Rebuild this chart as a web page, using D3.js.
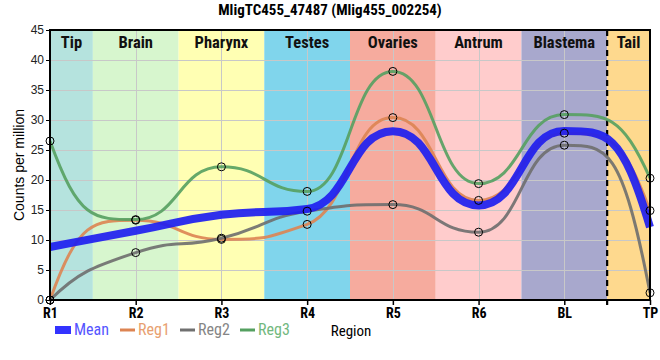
<!DOCTYPE html>
<html><head><meta charset="utf-8">
<script src="https://cdn.jsdelivr.net/npm/d3@7"></script>
<style>body{margin:0;background:#fff}svg{display:block}</style>
</head><body>
<svg id="c" width="660" height="360"></svg>
<script>
const categories = ["R1","R2","R3","R4","R5","R6","BL","TP"];
const regions = ["Tip","Brain","Pharynx","Testes","Ovaries","Antrum","Blastema","Tail"];
const regionColors = ["#b5e3de","#d7f6ce","#ffffb3","#80d5ec","#f6ab9e","#ffcccc","#a8a8cd","#fed98e"];
const reg1 = [0, 13.3, 10.1, 12.6, 30.4, 16.6, 27.8, 14.9];
const reg2 = [0, 7.9, 10.3, 14.8, 15.9, 11.3, 25.8, 1.2];
const reg3 = [26.5, 13.4, 22.2, 18.1, 38.1, 19.4, 30.9, 20.3];
const mean = categories.map((c,i)=> (reg1[i]+reg2[i]+reg3[i])/3);
const yTicks = [0,5,10,15,20,25,30,35,40,45];
const title = "MligTC455_47487 (Mlig455_002254)";

// monotone cubic curve with wide handles at interior points
function SmoothCurve(context){ this._context = context; }
SmoothCurve.prototype = {
  areaStart(){}, areaEnd(){},
  lineStart(){ this._x=[]; this._y=[]; },
  point(x,y){ this._x.push(+x); this._y.push(+y); },
  lineEnd(){
    const X=this._x, Y=this._y, n=X.length, ctx=this._context;
    if(!n) return;
    ctx.moveTo(X[0],Y[0]);
    if(n<2) return;
    const h=[], s=[];
    for(let i=0;i<n-1;i++){ h.push(X[i+1]-X[i]); s.push((Y[i+1]-Y[i])/h[i]); }
    const sg = v => v<0?-1:(v>0?1:0);
    const m = new Array(n).fill(0);
    for(let i=1;i<n-1;i++){
      const p=(s[i-1]*h[i]+s[i]*h[i-1])/(h[i-1]+h[i]);
      m[i]=(sg(s[i-1])+sg(s[i]))*Math.min(Math.abs(s[i-1]),Math.abs(s[i]),0.5*Math.abs(p));
    }
    m[0]=3*s[0]-2*m[1]; if(sg(m[0])!==sg(s[0])) m[0]=0;
    m[n-1]=3*s[n-2]-2*m[n-2]; if(sg(m[n-1])!==sg(s[n-2])) m[n-1]=0;
    const fi=0.5, fe=1/3;
    for(let i=0;i<n-1;i++){
      const a = (i===0?fe:fi)*h[i], b = (i===n-2?fe:fi)*h[i];
      ctx.bezierCurveTo(X[i]+a, Y[i]+m[i]*a, X[i+1]-b, Y[i+1]-m[i+1]*b, X[i+1], Y[i+1]);
    }
  }
};
const curveSmooth = ctx => new SmoothCurve(ctx);

const svg = d3.select("#c");
const L=50,R=650,T=30,B=300;
const x = d3.scalePoint().domain(categories).range([L,R]);
const y = d3.scaleLinear().domain([0,45]).range([B,T]);
const narrow = "'Liberation Sans Narrow','Arial Narrow','Roboto Condensed',sans-serif";

// bands
const xs = categories.map(c=>x(c));
const edges = [L];
for(let i=0;i<xs.length-1;i++) edges.push((xs[i]+xs[i+1])/2);
edges.push(R);
svg.append("g").selectAll("rect").data(regions).join("rect")
  .attr("x",(d,i)=>edges[i]).attr("y",T)
  .attr("width",(d,i)=>edges[i+1]-edges[i]).attr("height",B-T)
  .attr("fill",(d,i)=>regionColors[i]);

// grid
const g = svg.append("g").attr("stroke","#c8c8c8").attr("stroke-width",1);
g.selectAll("line.h").data(yTicks).join("line").attr("class","h")
  .attr("x1",L).attr("x2",R).attr("y1",d=>y(d)+0.5).attr("y2",d=>y(d)+0.5);
g.selectAll("line.v").data(categories).join("line").attr("class","v")
  .attr("x1",d=>Math.round(x(d))+0.5).attr("x2",d=>Math.round(x(d))+0.5).attr("y1",T).attr("y2",B);

// region labels
svg.append("g").selectAll("text").data(regions).join("text")
  .attr("x",(d,i)=>(edges[i]+edges[i+1])/2).attr("y",T+18)
  .attr("text-anchor","middle").attr("font-family",narrow).attr("font-weight","bold")
  .attr("font-size",16.5).attr("fill","#111").text(d=>d);

// dashed separator
svg.append("line").attr("x1",edges[7]).attr("x2",edges[7]).attr("y1",T).attr("y2",B+5)
  .attr("stroke","#000").attr("stroke-width",2.2).attr("stroke-dasharray","6,4");

// lines
const line = d3.line().x((d,i)=>x(categories[i])).y(d=>y(d)).curve(curveSmooth);
const series = [
  {name:"Reg1",vals:reg1,color:"#dd8452",w:3},
  {name:"Reg2",vals:reg2,color:"#6e6e6e",w:3},
  {name:"Reg3",vals:reg3,color:"#55a060",w:3}
];
series.forEach(s=>{
  svg.append("path").attr("d",line(s.vals)).attr("fill","none")
    .attr("stroke",s.color).attr("stroke-width",s.w).attr("stroke-opacity",0.9);
});
svg.append("path").attr("d",line(mean)).attr("fill","none")
  .attr("stroke","#1e1ef0").attr("stroke-width",8).attr("stroke-opacity",0.92);

// points
series.forEach(s=>{
  svg.append("g").selectAll("circle").data(s.vals).join("circle")
    .attr("cx",(d,i)=>x(categories[i])).attr("cy",d=>y(d)).attr("r",4)
    .attr("fill","none").attr("stroke","#000").attr("stroke-width",1);
});

// axes
const ya = svg.append("g").attr("transform",`translate(${L},0)`)
  .call(d3.axisLeft(y).tickValues(yTicks).tickSize(4).tickPadding(2));
ya.select(".domain").remove();
ya.selectAll("text").attr("font-family","'Liberation Sans',Arial,sans-serif").attr("font-size",12).attr("fill","#222");
const xa = svg.append("g").attr("transform",`translate(0,${B})`)
  .call(d3.axisBottom(x).tickSize(5).tickPadding(3));
xa.select(".domain").remove();
xa.selectAll("line").attr("stroke-width",1.5);
xa.selectAll("text").attr("font-family",narrow).attr("font-weight","bold").attr("font-size",14).attr("fill","#000");

// frame
svg.append("rect").attr("x",L).attr("y",T).attr("width",R-L).attr("height",B-T)
  .attr("fill","none").attr("stroke","#000").attr("stroke-width",2);

// title
svg.append("text").attr("x",330).attr("y",15).attr("text-anchor","middle")
  .attr("font-family",narrow).attr("font-weight","bold").attr("font-size",15).text(title);

// y label
svg.append("text").attr("transform","translate(24,165) rotate(-90)").attr("text-anchor","middle")
  .attr("font-family","'Liberation Sans',Arial,sans-serif").attr("font-size",14).text("Counts per million");

// legend
const leg = svg.append("g").attr("font-family",narrow).attr("font-size",16);
leg.append("rect").attr("x",55).attr("y",326).attr("width",16).attr("height",8).attr("fill","#3333ff");
leg.append("text").attr("x",74).attr("y",335).attr("fill","#5555ff").text("Mean");
const legItems = [{n:"Reg1",c:"#dd8452",t:"#e8a070",x:120},{n:"Reg2",c:"#707070",t:"#858585",x:180},{n:"Reg3",c:"#55a060",t:"#72b87e",x:240}];
legItems.forEach(d=>{
  leg.append("line").attr("x1",d.x).attr("x2",d.x+15).attr("y1",330).attr("y2",330).attr("stroke",d.c).attr("stroke-width",3);
  leg.append("text").attr("x",d.x+18).attr("y",335).attr("fill",d.t).text(d.n);
});
svg.append("text").attr("x",351).attr("y",336).attr("text-anchor","middle")
  .attr("font-family",narrow).attr("font-size",15).text("Region");
</script>
</body></html>
